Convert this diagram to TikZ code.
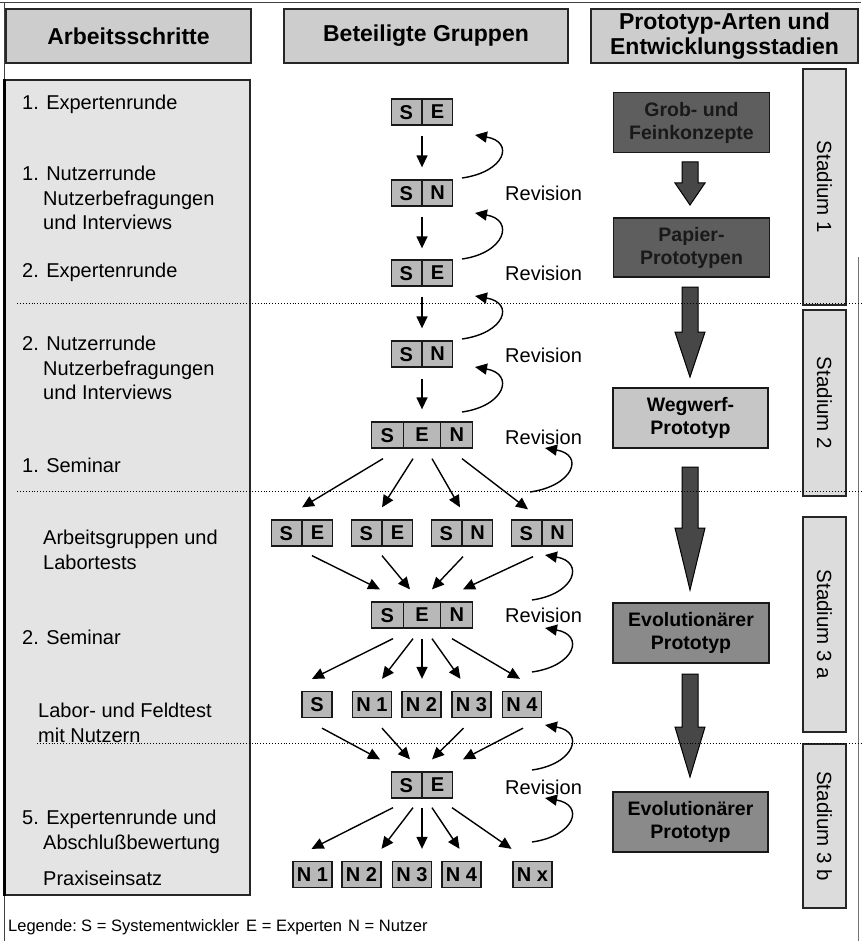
\documentclass[tikz,border=0pt]{standalone}
\usepackage{fontspec}
\setmainfont{Liberation Sans}
\usetikzlibrary{arrows.meta,shapes.multipart,calc}
\definecolor{hdrgray}{HTML}{CDCDCD}
\definecolor{leftgray}{HTML}{E4E4E4}
\definecolor{grpgray}{HTML}{B8B8B8}
\definecolor{stgray}{HTML}{DCDCDC}
\definecolor{lightproto}{HTML}{C6C6C6}
\definecolor{midproto}{HTML}{8A8A8A}
\definecolor{darkproto}{HTML}{5E5E5E}
\definecolor{arrowgray}{HTML}{474747}
\newcommand{\gcell}[2][30pt]{\makebox[#1]{#2}}
\newcommand{\blockarrow}[3]{\draw[blk] (682,#1) -- (698,#1) -- (698,#2) -- (705,#2) -- (690,#3) -- (675,#2) -- (682,#2) -- cycle;}
\begin{document}
\begin{tikzpicture}[x=1pt,y=-1pt,
  hdr/.style={draw=black!85, line width=1.2pt, fill=hdrgray, inner sep=0pt, align=center,
    minimum height=54pt, font=\fontsize{23}{25.5}\selectfont\bfseries},
  ltext/.style={anchor=north west, inner sep=0pt, align=left, font=\fontsize{20}{24.5}\selectfont},
  grp/.style={draw=black!90, line width=1.3pt, fill=grpgray, rectangle split,
    rectangle split horizontal, rectangle split parts=#1, inner xsep=0pt, inner ysep=5.5pt,
    text height=15pt, text depth=0pt, font=\fontsize{20}{22}\selectfont\bfseries},
  grp/.default=2,
  single/.style={draw=black!90, line width=1.3pt, fill=grpgray, minimum width=39pt,
    minimum height=26pt, inner sep=0pt, font=\fontsize{20}{22}\selectfont\bfseries},
  conn/.style={line width=1.4pt, -{Triangle[length=12pt,width=11pt]}},
  revlabel/.style={anchor=west, inner sep=0pt, font=\fontsize{20}{24}\selectfont,
    text height=14.3pt, text depth=0pt},
  proto/.style={draw=black!90, line width=1.3pt, minimum width=156pt, minimum height=60pt,
    inner sep=0pt, align=center, font=\fontsize{19.5}{23}\selectfont\bfseries},
  stad/.style={draw=black!85, line width=1.2pt, fill=stgray, rotate=-90, minimum height=43pt,
    inner sep=0pt, font=\fontsize{20.5}{24}\selectfont},
  blk/.style={draw=black, line width=1pt, fill=arrowgray},
  sepline/.style={dotted, line width=0.9pt},
  frameline/.style={line width=1pt, black!75},
  legend/.style={anchor=base west, inner sep=0pt, font=\fontsize{16.5}{19}\selectfont}
]
\useasboundingbox (0,0) rectangle (861,941);
% outer frame
\draw[frameline] (0,3) -- (861,3);
\draw[frameline] (4,3) -- (4,941);
\draw[frameline, black!55] (858,257) -- (858,941);

% headers
\node[hdr, minimum width=245pt] (h1) at (128.5,36) {Arbeitsschritte};
\node[hdr, minimum width=284pt] (h2) at (426,36) {Beteiligte Gruppen};
\node[hdr, minimum width=267pt] (h3) at (724.5,36) {Prototyp-Arten und\\Entwicklungsstadien};

% left column
\node[draw=black!85, line width=1.2pt, fill=leftgray, minimum width=245pt, minimum height=815pt,
  inner sep=0pt] (lb) at (127.5,487.5) {};
\draw[line width=3pt] (lb.north west) -- (lb.south west);
\node[ltext] (t1) at (22,95) {1. Expertenrunde};
\node[ltext] (t2) at (22,166) {1. Nutzerrunde\\\hspace*{21pt}Nutzerbefragungen\\\hspace*{21pt}und Interviews};
\node[ltext] (t3) at (22,263) {2. Expertenrunde};
\node[ltext] (t4) at (22,336) {2. Nutzerrunde\\\hspace*{21pt}Nutzerbefragungen\\\hspace*{21pt}und Interviews};
\node[ltext] (t5) at (22,458) {1. Seminar};
\node[ltext] (t6) at (43,530) {Arbeitsgruppen und\\Labortests};
\node[ltext] (t7) at (22,630) {2. Seminar};
\node[ltext] (t8) at (38,703) {Labor- und Feldtest\\mit Nutzern};
\node[ltext] (t9) at (22,810) {5. Expertenrunde und\\\hspace*{21pt}Abschlußbewertung};
\node[ltext] (t10) at (43,871) {Praxiseinsatz};

% groups
\node[grp] (g1) at (422,112) {\gcell{S}\nodepart{two}\gcell{E}};
\node[grp] (g2) at (422,193) {\gcell{S}\nodepart{two}\gcell{N}};
\node[grp] (g3) at (422,273) {\gcell{S}\nodepart{two}\gcell{E}};
\node[grp] (g4) at (422,354) {\gcell{S}\nodepart{two}\gcell{N}};
\node[grp=3] (g5) at (422,435) {\gcell[31pt]{S}\nodepart{two}\gcell[36pt]{E}\nodepart{three}\gcell[31pt]{N}};
\node[grp] (r2a) at (302,533) {\gcell{S}\nodepart{two}\gcell{E}};
\node[grp] (r2b) at (382,533) {\gcell{S}\nodepart{two}\gcell{E}};
\node[grp] (r2c) at (462,533) {\gcell{S}\nodepart{two}\gcell{N}};
\node[grp] (r2d) at (542,533) {\gcell{S}\nodepart{two}\gcell{N}};
\node[grp=3] (g6) at (422,615) {\gcell[31pt]{S}\nodepart{two}\gcell[36pt]{E}\nodepart{three}\gcell[31pt]{N}};
\node[single, minimum width=30pt] (r3s) at (317,704.5) {S};
\node[single] (r3n1) at (372,704.5) {N 1};
\node[single] (r3n2) at (421.5,704.5) {N 2};
\node[single] (r3n3) at (471.5,704.5) {N 3};
\node[single] (r3n4) at (522,704.5) {N 4};
\node[grp] (g7) at (422,785) {\gcell{S}\nodepart{two}\gcell{E}};
\node[single] (r4n1) at (312.5,874.5) {N 1};
\node[single] (r4n2) at (361.5,874.5) {N 2};
\node[single] (r4n3) at (412,874.5) {N 3};
\node[single] (r4n4) at (461.5,874.5) {N 4};
\node[single] (r4nx) at (532.5,874.5) {N x};

% vertical arrows
\draw[conn] ($(g1.south)+(0,10)$) -- ($(g2.north)+(0,-12)$);
\draw[conn] ($(g2.south)+(0,10)$) -- ($(g3.north)+(0,-11)$);
\draw[conn] ($(g3.south)+(0,10)$) -- ($(g4.north)+(0,-12)$);
\draw[conn] ($(g4.south)+(0,11)$) -- ($(g5.north)+(0,-12)$);
% g5 -> row 2
\draw[conn] ($(g5.south)+(-39,10)$) -- ($(r2a.north)+(0,-12)$);
\draw[conn] ($(g5.south)+(-9,10)$) -- ($(r2b.north)+(0,-12)$);
\draw[conn] ($(g5.south)+(10,10)$) -- ($(r2c.north)+(-2,-12)$);
\draw[conn] ($(g5.south)+(40,10)$) -- ($(r2d.north)+(-14,-10)$);
% row 2 -> g6
\draw[conn] ($(r2a.south)+(10,9)$) -- ($(g6.north)+(-42,-12)$);
\draw[conn] ($(r2b.south)+(0,9)$) -- ($(g6.north)+(-12,-12)$);
\draw[conn] ($(r2c.south)+(1,10)$) -- ($(g6.north)+(10,-12)$);
\draw[conn] ($(r2d.south)+(-9,10)$) -- ($(g6.north)+(41,-12)$);
% g6 -> row 3
\draw[conn] ($(g6.south)+(-29,10)$) -- ($(r3s.north)+(-5,-12)$);
\draw[conn] ($(g6.south)+(-9,10)$) -- ($(r3n1.north)+(10,-12)$);
\draw[conn] ($(g6.south)+(0,10)$) -- ($(r3n2.north)+(0.5,-12)$);
\draw[conn] ($(g6.south)+(10,10)$) -- ($(r3n3.north)+(-11,-12)$);
\draw[conn] ($(g6.south)+(30,10)$) -- ($(r3n4.north)+(-2,-12)$);
% row 3 -> g7
\draw[conn] ($(r3s.south)+(5,10)$) -- ($(g7.north)+(-42,-12)$);
\draw[conn] ($(r3n1.south)+(10,10)$) -- ($(g7.north)+(-12,-12)$);
\draw[conn] ($(r3n3.south)+(-8,10)$) -- ($(g7.north)+(10,-12)$);
\draw[conn] ($(r3n4.south)+(1,10)$) -- ($(g7.north)+(41,-12)$);
% g7 -> row 4
\draw[conn] ($(g7.south)+(-29,9)$) -- ($(r4n1.north)+(-1,-12)$);
\draw[conn] ($(g7.south)+(-9,9)$) -- ($(r4n2.north)+(20,-12)$);
\draw[conn] ($(g7.south)+(0,9)$) -- ($(r4n3.north)+(10,-12)$);
\draw[conn] ($(g7.south)+(10,9)$) -- ($(r4n4.north)+(-2,-12)$);
\draw[conn] ($(g7.south)+(30,9)$) -- ($(r4nx.north)+(-21,-12)$);

% revision loops
\coordinate (l1a) at (462,178); \coordinate (l1b) at (475,135);
\coordinate (l2a) at (462,259); \coordinate (l2b) at (475,213);
\coordinate (l3a) at (462,339); \coordinate (l3b) at (475,296);
\coordinate (l4a) at (462,412); \coordinate (l4b) at (475,367);
\coordinate (l5a) at (530,492); \coordinate (l5b) at (545,448);
\coordinate (l6a) at (532,600); \coordinate (l6b) at (545,555);
\coordinate (l7a) at (532,672); \coordinate (l7b) at (545,628);
\coordinate (l8a) at (532,770); \coordinate (l8b) at (545,725);
\coordinate (l9a) at (532,842); \coordinate (l9b) at (545,798);
\foreach \i in {1,...,9}{
  \draw[conn] (l\i a) .. controls +(43,-6) and +(40,7) .. (l\i b);
}
\node[revlabel] (rv1) at (505,193) {Revision};
\node[revlabel] (rv2) at (505,273) {Revision};
\node[revlabel] (rv3) at (505,355) {Revision};
\node[revlabel] (rv4) at (505,437) {Revision};
\node[revlabel] (rv5) at (505,615) {Revision};
\node[revlabel] (rv6) at (505,787) {Revision};

% prototype column
\node[proto, fill=darkproto, text=black!90] (p1) at (691.5,122.5) {Grob- und\\Feinkonzepte};
\node[proto, fill=darkproto, text=black!90, minimum height=59pt] (p2) at (691.5,247.5) {Papier-\\Prototypen};
\node[proto, fill=lightproto, minimum width=155pt] (p3) at (690.5,418) {Wegwerf-\\Prototyp};
\node[proto, fill=midproto] (p4) at (691,633) {Evolutionärer\\Prototyp};
\node[proto, fill=midproto, minimum width=155pt] (p5) at (690.5,822) {Evolutionärer\\Prototyp};
\blockarrow{162}{183}{205}
\blockarrow{287}{332}{377}
\blockarrow{467}{528}{590}
\blockarrow{674}{727}{777}

% stadium boxes
\node[stad, minimum width=236pt] (s1) at (824.5,187) {Stadium 1};
\node[stad, minimum width=186pt] (s2) at (824.5,403) {Stadium 2};
\node[stad, minimum width=215pt] (s3) at (824.5,624.5) {Stadium 3 a};
\node[stad, minimum width=164pt] (s4) at (824.5,826) {Stadium 3 b};

% separators
\draw[sepline] (17,303) -- (861,303);
\draw[sepline] (17,491) -- (861,491);
\draw[sepline] (37,743) -- (861,743);

% legend
\node[legend] (lg0) at (8,931) {Legende:};
\node[legend] (lg1) at (81,931) {S = Systementwickler};
\node[legend] (lg2) at (246,931) {E = Experten};
\node[legend] (lg3) at (348,931) {N = Nutzer};
\end{tikzpicture}
\end{document}
